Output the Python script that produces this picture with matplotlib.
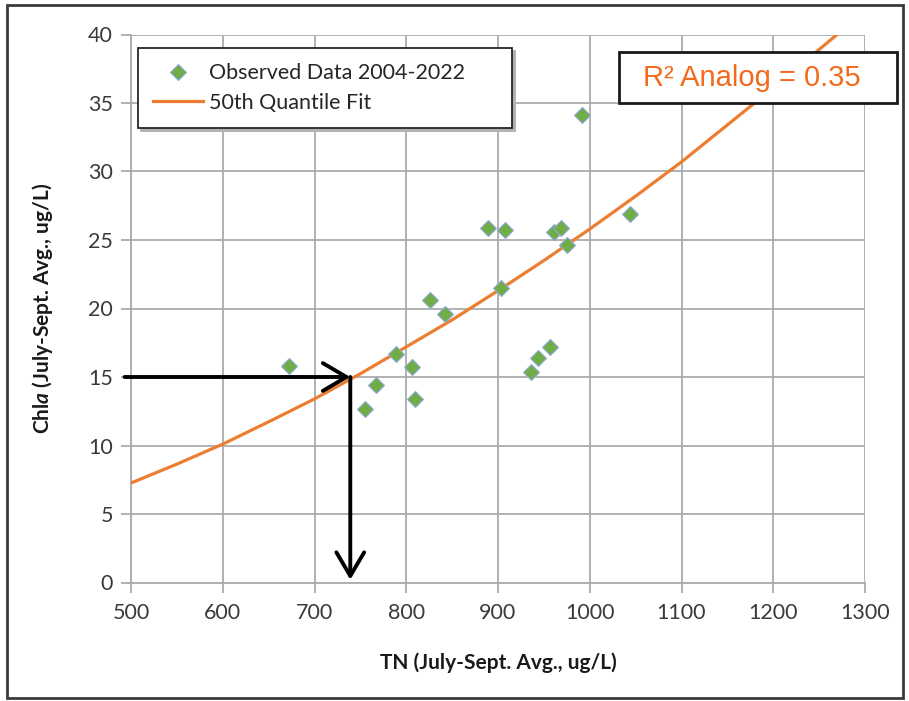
import matplotlib.pyplot as plt
from matplotlib.patches import Rectangle

plt.rcParams['font.family'] = ['Lato', 'DejaVu Sans']
plt.rcParams['mathtext.fontset'] = 'custom'
plt.rcParams['mathtext.rm'] = 'Lato:bold'
plt.rcParams['mathtext.it'] = 'Lato:bold:italic'

# observed data, 2004-2022 (July-Sept. averages)
tn_obs = [672, 755, 767, 789, 806, 810, 826, 842, 889, 903, 908,
          936, 944, 957, 961, 969, 975, 992, 1044]
chla_obs = [15.8, 12.7, 14.4, 16.7, 15.7, 13.4, 20.6, 19.6, 25.9, 21.5, 25.7,
            15.4, 16.4, 17.2, 25.6, 25.9, 24.6, 34.1, 26.9]

# 50th quantile fit
tn_fit = [500, 550, 600, 650, 700, 750, 800, 850, 900, 950, 1000,
          1050, 1100, 1150, 1200, 1250, 1300]
chla_fit = [7.26, 8.64, 10.1, 11.73, 13.4, 15.24, 17.2, 19.17, 21.3, 23.5, 25.8,
            28.2, 30.7, 33.4, 36.1, 38.9, 41.7]

# target read from the fit
target_chla = 15
target_tn = 739

r2_text = "R² Analog = 0.35"

fig = plt.figure(figsize=(9.09, 7.01), dpi=100)
ax = fig.add_axes([131 / 909, 1 - 582.5 / 701, 734 / 909, 548 / 701])

grid_col = '#ABABAB'
ax.grid(True, color=grid_col, linewidth=1.3)
ax.set_axisbelow(True)
for s in ['top', 'right']:
    ax.spines[s].set_visible(False)
for s in ['left', 'bottom']:
    ax.spines[s].set_color(grid_col)
    ax.spines[s].set_linewidth(1.3)

ax.plot(tn_fit, chla_fit, color='#ED7D31', linewidth=2.3,
        label='50th Quantile Fit', zorder=3)
ax.plot(tn_obs, chla_obs, linestyle='none', marker='D', markersize=8.3,
        markerfacecolor='#70AD47', markeredgecolor='#8FAADC', markeredgewidth=0.8,
        label='Observed Data 2004-2022', zorder=4)

# arrows
arrow = dict(arrowstyle='->,head_length=0.85,head_width=0.5', color='black',
             linewidth=2.8, mutation_scale=20, shrinkA=0, shrinkB=0)
ax.annotate('', xy=(target_tn, target_chla), xytext=(493, target_chla),
            arrowprops=arrow, annotation_clip=False, zorder=5)
ax.annotate('', xy=(target_tn, 0.2), xytext=(target_tn, target_chla),
            arrowprops=arrow, annotation_clip=False, zorder=5)

ax.set_xlim(500, 1300)
ax.set_ylim(0, 40)
ax.set_xticks(range(500, 1301, 100))
ax.set_yticks(range(0, 41, 5))
ax.tick_params(axis='both', colors=grid_col, length=7, width=1.3,
               labelsize=15.5, labelcolor='#3a3a3a')
ax.tick_params(axis='x', pad=8)
ax.tick_params(axis='y', pad=6)

ax.set_xlabel('TN (July-Sept. Avg., ug/L)', fontsize=15, fontweight='bold',
              color='#1a1a1a')
ax.set_ylabel(r'Chl$\mathit{a}$ (July-Sept. Avg., ug/L)', fontsize=15,
              fontweight='bold', color='#1a1a1a')
ax.xaxis.set_label_coords(0.5, -0.128)
ax.yaxis.set_label_coords(-0.104, 0.5)

handles, labels = ax.get_legend_handles_labels()
leg = ax.legend(handles[::-1], labels[::-1], loc='upper left',
                bbox_to_anchor=(0.0095, 0.975, 0.5095, 0), mode='expand',
                borderaxespad=0, fontsize=15.5, handlelength=2.3,
                handletextpad=0.3, borderpad=0.7, labelspacing=0.45,
                fancybox=False, shadow={'color': '#b0b0b0', 'alpha': 1},
                framealpha=1, edgecolor='#262626')
leg.get_frame().set_linewidth(1.3)
for t in leg.get_texts():
    t.set_color('#262626')

# R2 box
fig.patches.append(Rectangle((619 / 909, 1 - 103 / 701), 278 / 909, 51 / 701,
                             transform=fig.transFigure, facecolor='white',
                             edgecolor='#1a1a1a', linewidth=2, zorder=10))
fig.text(752 / 909, 1 - 78 / 701, r2_text, fontsize=21, color='#F26B1D',
         family='Liberation Sans', ha='center', va='center', zorder=11)

# outer frame
fig.patches.append(Rectangle((7 / 909, 1 - 698 / 701), 896 / 909, 693 / 701,
                             transform=fig.transFigure, facecolor='none',
                             edgecolor='#3a3a3a', linewidth=2, zorder=0))

fig.savefig('out.png', dpi=100)
